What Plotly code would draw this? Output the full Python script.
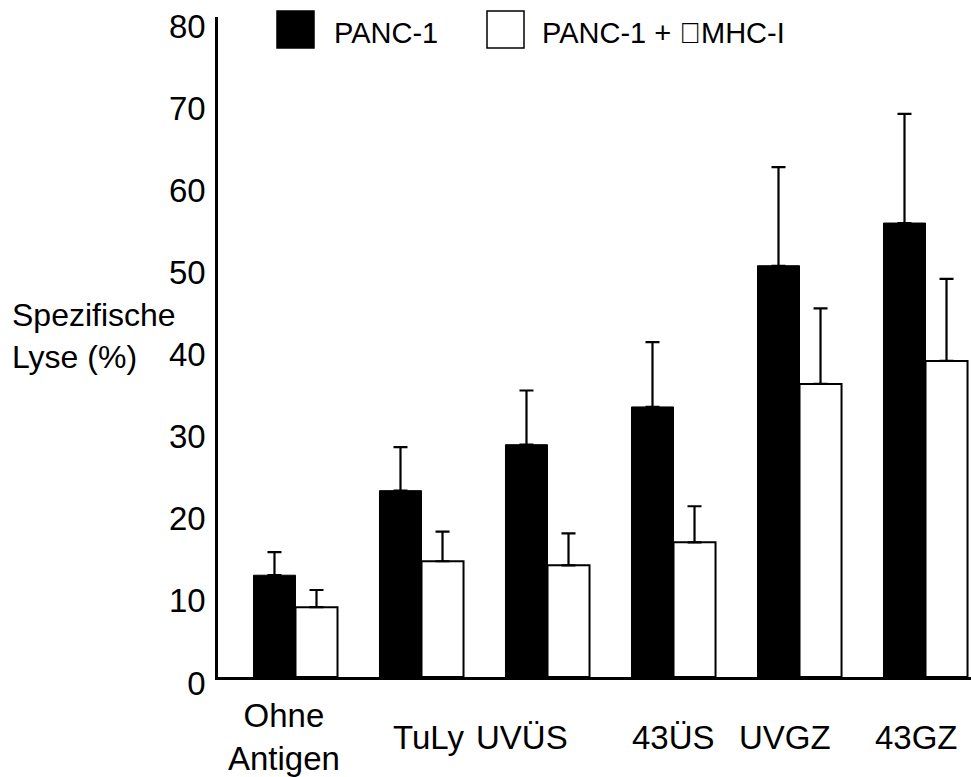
import plotly.graph_objects as go

categories = ["Ohne<br>Antigen", "TuLy", "UVÜS", "43ÜS", "UVGZ", "43GZ"]
panc1 = [12.4, 22.7, 28.3, 32.9, 50.1, 55.3]
panc1_err = [2.8, 5.3, 6.6, 7.9, 12.0, 13.3]
panc1_mhc = [8.5, 14.1, 13.6, 16.4, 35.7, 38.5]
panc1_mhc_err = [2.1, 3.6, 3.9, 4.4, 9.2, 10.0]
y_ticks = [0, 10, 20, 30, 40, 50, 60, 70, 80]
series_names = ["PANC-1", "PANC-1 + \uf061MHC-I"]

FONT = "Liberation Sans, Arial, sans-serif"
label_shift = [-11, 7, -26, 0, -15, -9]

x_idx = list(range(len(categories)))

fig = go.Figure()
fig.add_trace(go.Bar(
    x=x_idx, y=panc1, name=series_names[0],
    marker=dict(color="black", line=dict(color="black", width=1)),
    error_y=dict(type="data", array=panc1_err, arrayminus=[0] * len(panc1),
                 symmetric=False, thickness=2.2, width=7, color="black"),
))
fig.add_trace(go.Bar(
    x=x_idx, y=panc1_mhc, name=series_names[1],
    marker=dict(color="white", line=dict(color="black", width=2)),
    error_y=dict(type="data", array=panc1_mhc_err, arrayminus=[0] * len(panc1_mhc),
                 symmetric=False, thickness=2.2, width=7, color="black"),
))

W, H = 971, 777
L, R, T, B = 218, 0, 17, 100
pw, ph = W - L - R, H - T - B


def px_x(px):
    return (px - L) / pw


def px_y(py):
    return (H - B - py) / ph


annotations = []
for i, (c, s) in enumerate(zip(categories, label_shift)):
    annotations.append(dict(
        x=i, xref="x", y=px_y(737), yref="paper", text=c, showarrow=False,
        xanchor="center", yanchor="middle", xshift=s, align="center",
        font=dict(family=FONT, size=33, color="black"),
    ))

annotations.append(dict(
    x=px_x(10), xref="paper", y=px_y(336), yref="paper",
    text="Spezifische<br>Lyse (%)", showarrow=False, xanchor="left",
    yanchor="middle", align="left",
    font=dict(family=FONT, size=32, color="black"),
))

annotations.append(dict(
    x=px_x(332), xref="paper", y=px_y(33), yref="paper", text=series_names[0],
    showarrow=False, xanchor="left", yanchor="middle",
    font=dict(family=FONT, size=29, color="black"),
))
annotations.append(dict(
    x=px_x(540), xref="paper", y=px_y(33), yref="paper", text=series_names[1],
    showarrow=False, xanchor="left", yanchor="middle",
    font=dict(family=FONT, size=29, color="black"),
))

shapes = [
    dict(type="rect", xref="paper", yref="paper",
         x0=px_x(277), x1=px_x(314), y0=px_y(48), y1=px_y(11),
         fillcolor="black", line=dict(color="black", width=1.5)),
    dict(type="rect", xref="paper", yref="paper",
         x0=px_x(487), x1=px_x(524), y0=px_y(48), y1=px_y(11),
         fillcolor="white", line=dict(color="black", width=1.5)),
]

fig.update_layout(
    width=W, height=H,
    margin=dict(l=L, r=R, t=T, b=B),
    paper_bgcolor="white", plot_bgcolor="white",
    barmode="group", bargap=0.333, bargroupgap=0,
    showlegend=False,
    font=dict(family=FONT, size=32, color="black"),
    annotations=annotations, shapes=shapes,
    xaxis=dict(range=[-0.615, 5.361], showticklabels=False, ticks="",
               showline=True, linecolor="black", linewidth=2.5,
               showgrid=False, zeroline=False),
    yaxis=dict(range=[0, 80.4], tickvals=y_ticks, ticks="",
               ticklabelstandoff=3, ticklabelshift=6,
               ticklabeloverflow="allow",
               tickfont=dict(family=FONT, size=33, color="black"),
               showline=True, linecolor="black", linewidth=2.5,
               showgrid=False, zeroline=False),
)

fig.write_html(
    "out.html",
    config={"displayModeBar": False},
    post_script="document.body.style.margin='0';document.body.style.overflow='hidden';",
)
